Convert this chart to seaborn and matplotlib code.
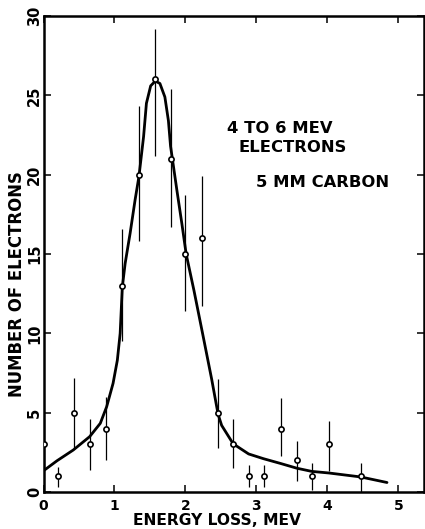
import numpy as np
import pandas as pd
import matplotlib
matplotlib.use('Agg')
import matplotlib.pyplot as plt
import seaborn as sns

energy_loss = [0, 0.2, 0.43, 0.65, 0.88, 1.11, 1.34, 1.57, 1.80, 2.0,
               2.23, 2.46, 2.67, 2.89, 3.1, 3.34, 3.57, 3.78, 4.02, 4.47]
counts = [3, 1, 5, 3, 4, 13, 20, 26, 21, 15,
          16, 5, 3, 1, 1, 4, 2, 1, 3, 1]
err_low = [1.4, 0.3, 2.8, 1.4, 2.0, 9.5, 15.8, 21.2, 16.7, 11.4,
           11.7, 2.8, 1.5, 0.3, 0.3, 2.3, 0.7, 0.1, 1.3, 0.0]
err_high = [4.6, 1.6, 7.2, 4.6, 6.0, 16.6, 24.3, 29.2, 25.4, 18.7,
            19.9, 7.1, 4.6, 1.7, 1.7, 5.9, 3.2, 1.8, 4.5, 1.8]

# hand drawn curve through the points
curve_x = [0, 0.19, 0.42, 0.65, 0.80, 0.89, 0.98, 1.04, 1.08, 1.11, 1.15, 1.22,
           1.29, 1.345, 1.41, 1.45, 1.51, 1.575, 1.64, 1.71, 1.76, 1.79, 1.88,
           1.95, 2.01, 2.12, 2.25, 2.37, 2.46, 2.51, 2.58, 2.65, 2.72, 2.89,
           3.1, 3.34, 3.57, 3.78, 4.02, 4.47, 4.84]
curve_y = [1.34, 1.97, 2.65, 3.49, 4.33, 5.38, 6.85, 8.3, 10.0, 12.9, 14.4, 16.3,
           18.4, 19.9, 22.4, 24.5, 25.6, 25.9, 25.75, 24.9, 23.4, 21.8, 19.0,
           16.9, 15.0, 12.7, 9.8, 7.1, 4.9, 4.2, 3.7, 3.2, 2.9, 2.4,
           2.1, 1.8, 1.5, 1.3, 1.2, 0.95, 0.6]

x_ticks = [0, 1, 2, 3, 4, 5]
y_ticks = [0, 5, 10, 15, 20, 25, 30]

pts = pd.DataFrame({'x': energy_loss, 'y': counts, 'lo': err_low, 'hi': err_high})
curve = pd.DataFrame({'x': curve_x, 'y': curve_y})

sns.set_style('ticks')
plt.rcParams['font.family'] = ['DejaVu Sans']
plt.rcParams['font.weight'] = 'bold'
plt.rcParams['text.color'] = 'black'
plt.rcParams['axes.labelcolor'] = 'black'
plt.rcParams['xtick.color'] = 'black'
plt.rcParams['ytick.color'] = 'black'

fig = plt.figure(figsize=(4.25, 5.29), dpi=100)
ax = fig.add_axes([0.1024, 0.0699, 0.895, 0.8998])

#Curve, error bars and open circles
sns.lineplot(data=curve, x='x', y='y', ax=ax, color='black', lw=2.0,
             estimator=None, sort=False, zorder=3)
ax.vlines(pts['x'], pts['lo'], pts['hi'], color='black', lw=0.9, zorder=2)
sns.scatterplot(data=pts, x='x', y='y', ax=ax, marker='o', s=14, color='white',
                edgecolor='black', linewidth=1.2, zorder=4)

#Annotation
ax.text(2.58, 22.9, '4 TO 6 MEV', fontsize=11.8, fontweight='bold', va='center', ha='left')
ax.text(2.75, 21.7, 'ELECTRONS', fontsize=11.8, fontweight='bold', va='center', ha='left')
ax.text(3.0, 19.5, '5 MM CARBON', fontsize=11.8, fontweight='bold', va='center', ha='left')

ax.set_xlim(0, 5.36)
ax.set_ylim(0, 30)
ax.set_xticks(x_ticks)
ax.set_xticklabels([str(t) for t in x_ticks])
ax.set_yticks(y_ticks)
ax.set_yticklabels([str(t) for t in y_ticks], rotation=90, va='center')

ax.tick_params(direction='in', length=5, width=1.1, top=True, right=True, colors='black')
ax.tick_params(axis='x', labelsize=10, pad=5)
ax.tick_params(axis='y', labelsize=10.5, pad=1)
for s in ax.spines.values():
    s.set_visible(True)
    s.set_linewidth(1.8)
    s.set_color('black')

ax.set_xlabel('ENERGY LOSS, MEV', fontsize=11.2, fontweight='bold')
ax.set_ylabel('NUMBER OF ELECTRONS', fontsize=11.9, fontweight='bold')
ax.xaxis.label.set_va('center')
ax.yaxis.label.set_va('center')
ax.xaxis.set_label_coords(0.456, -0.059)
ax.yaxis.set_label_coords(-0.070, 0.437)

fig.savefig('out.png', dpi=100)
